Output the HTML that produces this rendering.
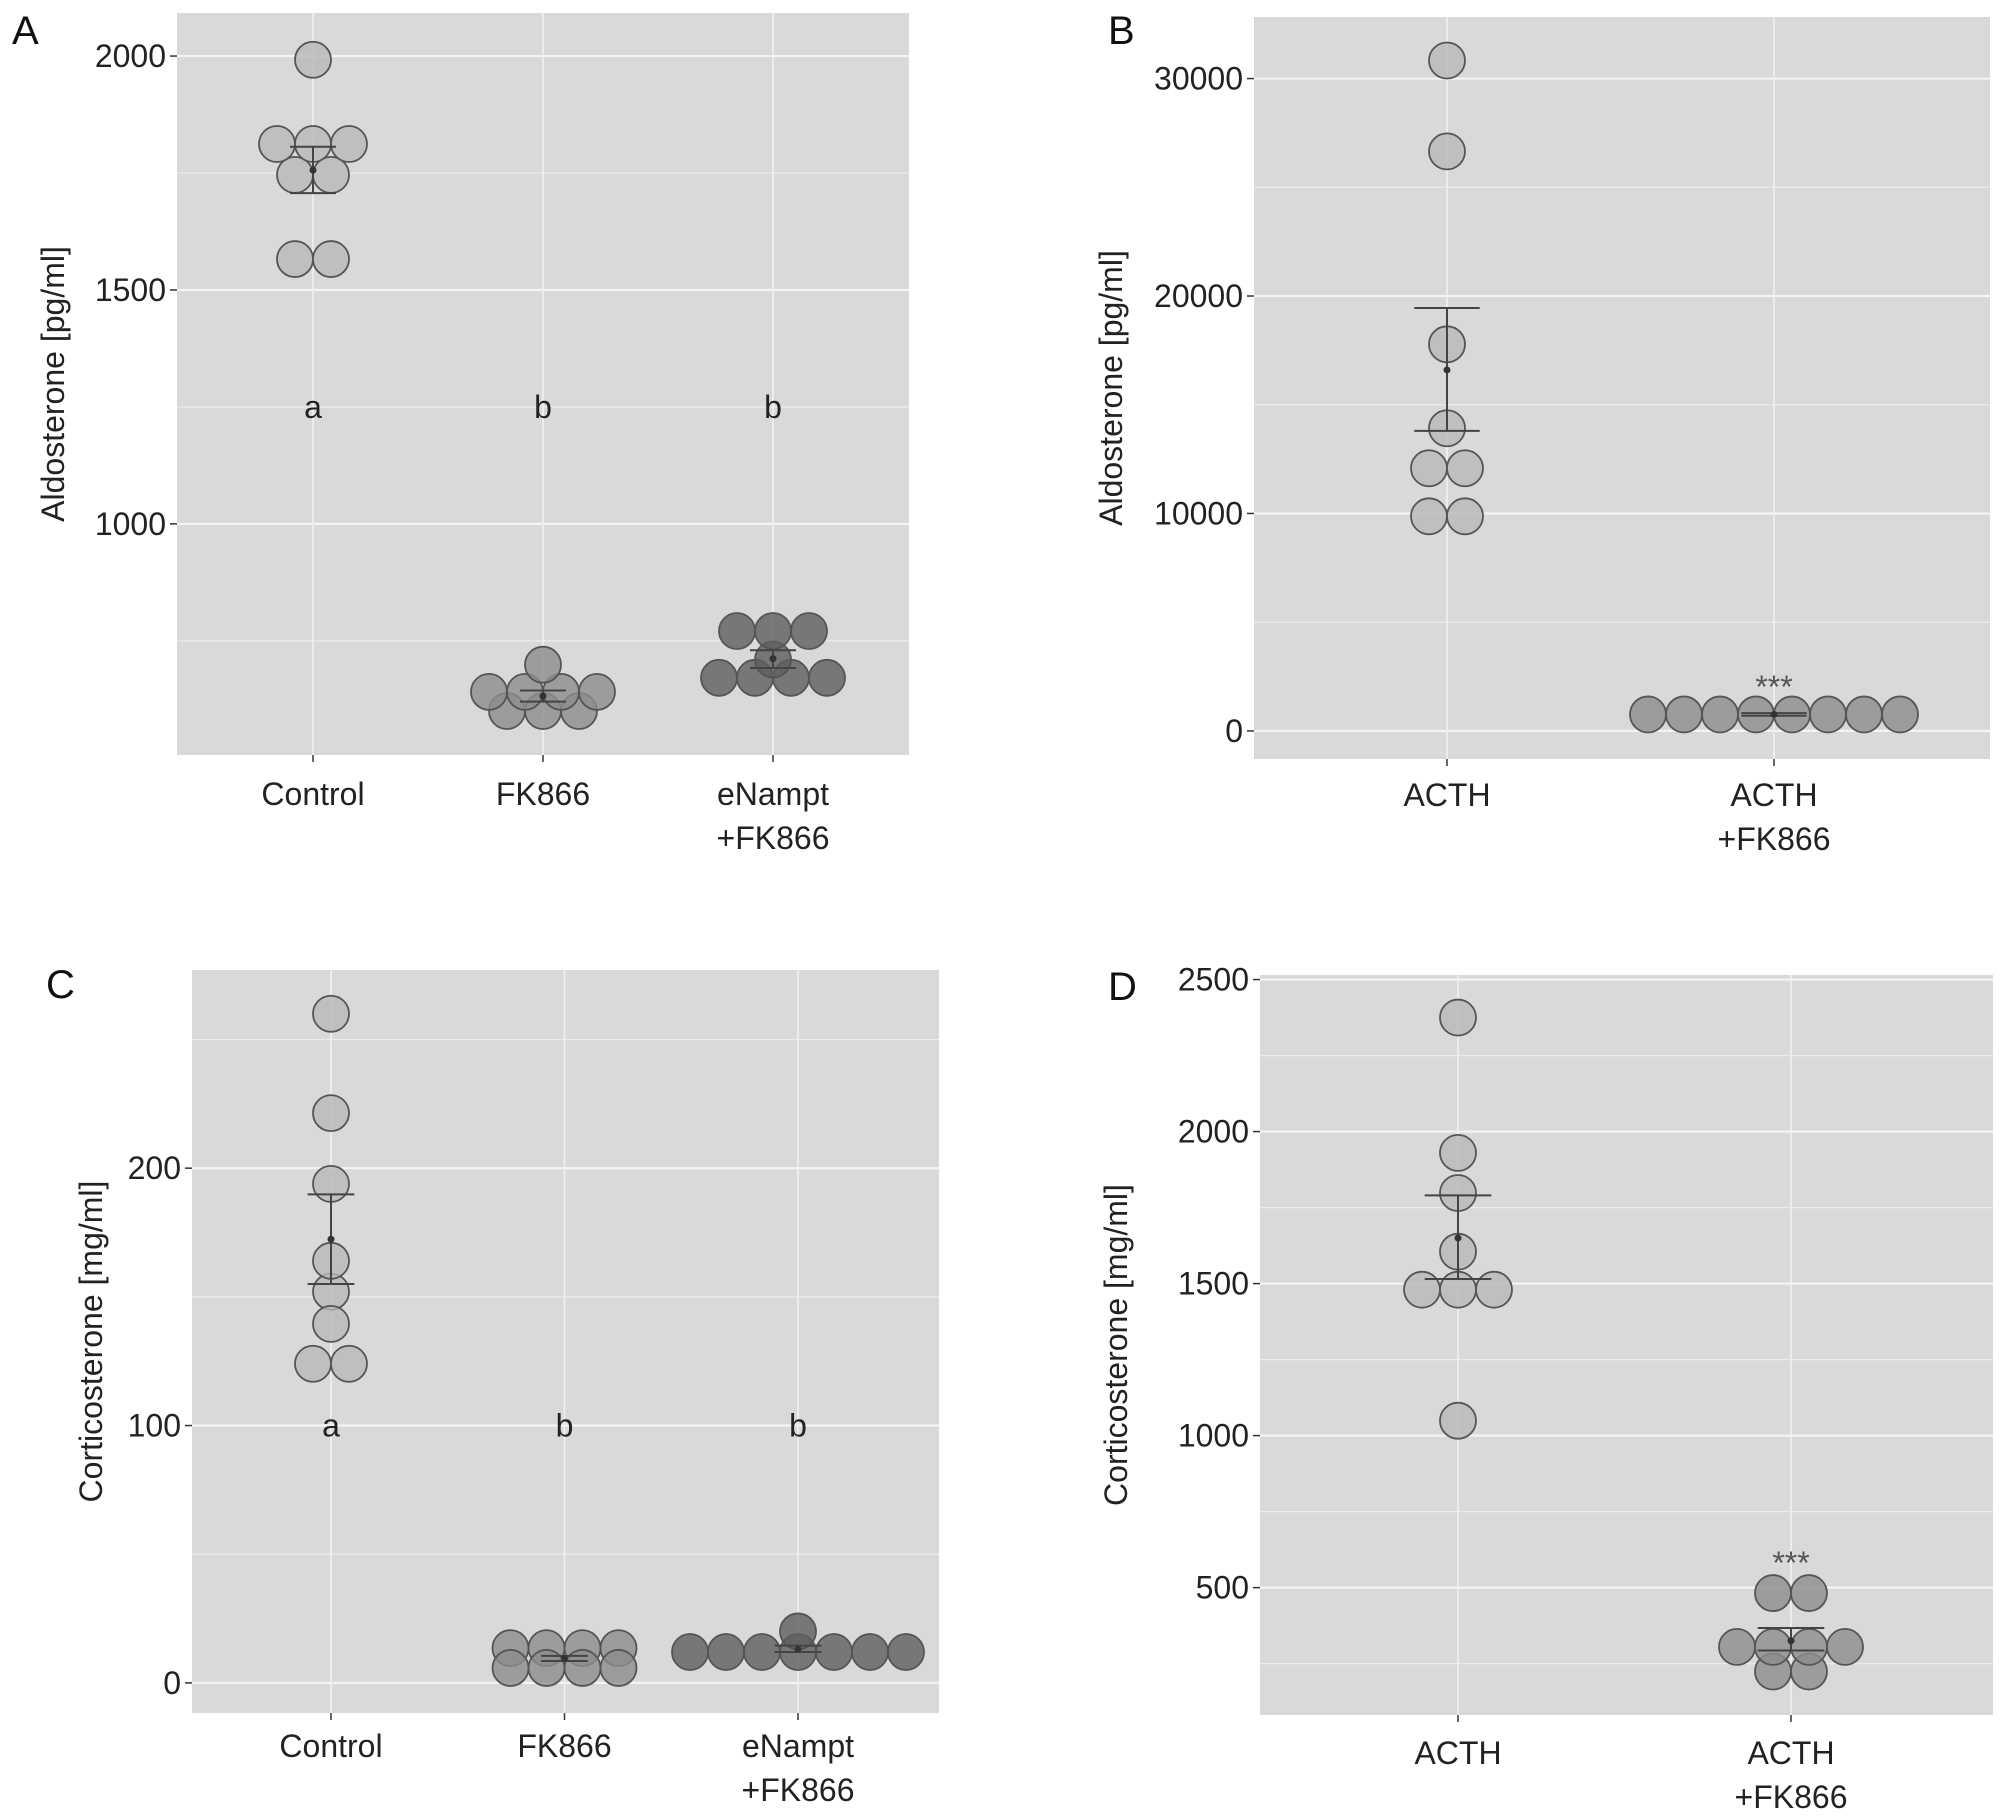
<!DOCTYPE html>
<html><head><meta charset="utf-8"><style>
html,body{margin:0;padding:0;background:#fff;}
svg{display:block;font-family:"Liberation Sans",Arial,sans-serif;}
</style></head><body>
<svg id="fig" width="2008" height="1819" viewBox="0 0 2008 1819" xmlns="http://www.w3.org/2000/svg"></svg>
<script>
// ---------- Panel A data ----------
const catsA = ["Control","FK866","eNampt\n+FK866"];
const ptsA = [[1992,1812,1812,1812,1746,1746,1566,1566],[699,641,641,641,641,600,600,600],[771,771,771,710,671,671,671,671]];
const meanA = [1756,632,712];
const loA = [1707,620,692];
const hiA = [1806,644,730];
const lettersA = ["a","b","b"];
const ticksA = [1000,1500,2000];
// ---------- Panel B data ----------
const catsB = ["ACTH","ACTH\n+FK866"];
const ptsB = [[30830,26650,17780,13920,12080,12080,9870,9870],[760,760,760,760,760,760,760,760]];
const meanB = [16600,760];
const loB = [13800,700];
const hiB = [19450,820];
const ticksB = [0,10000,20000,30000];
// ---------- Panel C data ----------
const catsC = ["Control","FK866","eNampt\n+FK866"];
const ptsC = [[260,221.4,193.9,164,152,139.5,124,124],[13.5,13.5,13.5,13.5,5.8,5.8,5.8,5.8],[20,12,12,12,12,12,12,12]];
const meanC = [172.4,9.5,13];
const loC = [155,8.5,12];
const hiC = [189.8,10.5,14.5];
const lettersC = ["a","b","b"];
const ticksC = [0,100,200];
// ---------- Panel D data ----------
const catsD = ["ACTH","ACTH\n+FK866"];
const ptsD = [[2375,1930,1798,1605,1480,1480,1480,1049],[482,482,305,305,305,305,224,224]];
const meanD = [1650,325];
const loD = [1515,293];
const hiD = [1790,367];
const ticksD = [500,1000,1500,2000,2500];

const svg = document.getElementById('fig');
const NS = "http://www.w3.org/2000/svg";
function mk(tag, attrs, parent){
  const e = document.createElementNS(NS, tag);
  for (const k in attrs) e.setAttribute(k, attrs[k]);
  (parent||svg).appendChild(e);
  return e;
}

function panel(cfg){
  const g = mk('g', {});
  
  
  const {L,R,T,B,vmin,vmax} = cfg;
  const y = v => B - (v - vmin) / (vmax - vmin) * (B - T);
  const n = cfg.cats.length;
  const x = i => cfg.cx0 + i * cfg.dx;
  const bg = mk('rect', {x:L, y:T, width:R-L, height:B-T, fill:'#d9d9d9'}, g);
  
  
  cfg.minor.forEach(v => {
    const l = mk('line', {x1:L, x2:R, y1:y(v), y2:y(v), stroke:'#ececec', 'stroke-width':1.3}, g);
    
    
  });
  cfg.ticks.forEach(v => {
    const l = mk('line', {x1:L, x2:R, y1:y(v), y2:y(v), stroke:'#f4f4f4', 'stroke-width':2.2}, g);
    
    
    const tk = mk('line', {x1:L-7, x2:L, y1:y(v), y2:y(v), stroke:'#333', 'stroke-width':1.5}, g);
    
    
    const t = mk('text', {x:L-11, y:y(v)+11, 'text-anchor':'end', 'font-size':32, fill:'#222'}, g);
    t.textContent = v;
    
    
  });
  for (let i=0;i<n;i++){
    const l = mk('line', {x1:x(i), x2:x(i), y1:T, y2:B, stroke:'#f0f0f0', 'stroke-width':1.6}, g);
    
    
    const tk = mk('line', {x1:x(i), x2:x(i), y1:B, y2:B+7, stroke:'#333', 'stroke-width':1.5}, g);
    
    
    const lines = cfg.cats[i].split('\n');
    lines.forEach((s, j) => {
      const t = mk('text', {x:x(i), y:cfg.labY + j*44, 'text-anchor':'middle', 'font-size':32, fill:'#222'}, g);
      t.textContent = s;
      
      
    });
  }
  if (cfg.letters){
    cfg.letters.forEach((s,i) => {
      const t = mk('text', {x:x(i), y:y(cfg.letterV)+11, 'text-anchor':'middle', 'font-size':32, fill:'#222'}, g);
      t.textContent = s;
      
      
    });
  }
  const r = 18;
  cfg.pts.forEach((vals, i) => {
    const rows = {};
    vals.forEach(v => { (rows[v] = rows[v] || []).push(v); });
    Object.keys(rows).forEach(k => {
      const arr = rows[k];
      arr.forEach((v, j) => {
        const cx = x(i) + (j - (arr.length-1)/2) * 2 * r;
        const c = mk('circle', {cx:cx, cy:y(v), r:r, fill:cfg.fills[i], 'fill-opacity':0.8, stroke:'#555', 'stroke-width':1.8}, g);
        
        
      });
    });
  });
  const cw = cfg.dx * 0.1;
  for (let i=0;i<n;i++){
    const e = mk('path', {d:`M${x(i)-cw},${y(cfg.hi[i])}H${x(i)+cw}M${x(i)},${y(cfg.hi[i])}V${y(cfg.lo[i])}M${x(i)-cw},${y(cfg.lo[i])}H${x(i)+cw}`, stroke:'#444', 'stroke-width':2, fill:'none'}, g);
    
    
    const m = mk('circle', {cx:x(i), cy:y(cfg.mean[i]), r:3.5, fill:'#333'}, g);
    
    
  }
  if (cfg.stars){
    const t = mk('text', {x:x(1), y:cfg.starsY, 'text-anchor':'middle', 'font-size':32, fill:'#555'}, g);
    t.textContent = '***';
    
    
  }
  const ty = (T+B)/2;
  const at = mk('text', {x:cfg.titleX, y:ty, 'text-anchor':'middle', 'font-size':32, fill:'#222', transform:`rotate(-90 ${cfg.titleX} ${ty})`}, g);
  at.textContent = cfg.title;
  
  
  const pl = mk('text', {x:cfg.letX, y:cfg.letY, 'font-size':40, fill:'#111'}, g);
  pl.textContent = cfg.id;
  
  
}

panel({id:'A', L:177, R:909, T:13, B:755, vmin:506, vmax:2092, cx0:313, dx:230,
  cats:catsA, pts:ptsA, mean:meanA, lo:loA, hi:hiA, letters:lettersA, letterV:1250,
  ticks:ticksA, minor:[750,1250,1750], fills:['#b8b8b8','#8c8c8c','#5e5e5e'],
  labY:805, titleX:64, title:'Aldosterone  [pg/ml]', letX:12, letY:44});
panel({id:'B', L:1254, R:1990, T:17, B:759, vmin:-1290, vmax:32830, cx0:1447, dx:327,
  cats:catsB, pts:ptsB, mean:meanB, lo:loB, hi:hiB, stars:true, starsY:698,
  ticks:ticksB, minor:[5000,15000,25000], fills:['#b8b8b8','#8c8c8c'],
  labY:806, titleX:1122, title:'Aldosterone  [pg/ml]', letX:1108, letY:44});
panel({id:'C', L:192, R:939, T:970, B:1713, vmin:-11.7, vmax:277, cx0:331, dx:233.5,
  cats:catsC, pts:ptsC, mean:meanC, lo:loC, hi:hiC, letters:lettersC, letterV:100,
  ticks:ticksC, minor:[50,150,250], fills:['#b8b8b8','#8c8c8c','#5e5e5e'],
  labY:1757, titleX:102, title:'Corticosterone  [mg/ml]', letX:46, letY:998});
panel({id:'D', L:1260, R:1993, T:975, B:1715, vmin:81, vmax:2515, cx0:1458, dx:333,
  cats:catsD, pts:ptsD, mean:meanD, lo:loD, hi:hiD, stars:true, starsY:1574,
  ticks:ticksD, minor:[250,750,1250,1750,2250], fills:['#b8b8b8','#8c8c8c'],
  labY:1764, titleX:1127, title:'Corticosterone  [mg/ml]', letX:1108, letY:1000});
</script>
</body></html>
